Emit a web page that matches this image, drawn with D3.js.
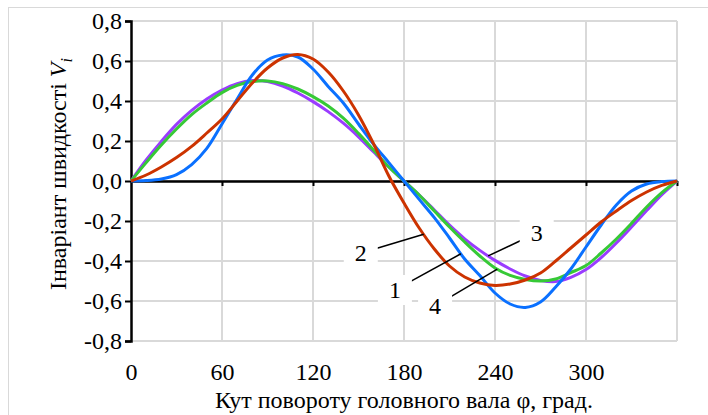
<!DOCTYPE html>
<html>
<head>
<meta charset="utf-8">
<script src="https://cdn.jsdelivr.net/npm/d3@7"></script>
<style>
  body { margin: 0; background: #fff; }
</style>
</head>
<body>
<div id="chart"></div>
<script>
// angle of the main shaft, degrees
var phi = [0, 10, 20, 30, 40, 50, 60, 70, 80, 90, 100, 110, 120, 130, 140, 150, 160, 170, 180,
           190, 200, 210, 220, 230, 240, 250, 260, 270, 280, 290, 300, 310, 320, 330, 340, 350, 360];

// curve 1 (blue)
var v1 = [0, 0.002, 0.01, 0.032, 0.082, 0.163, 0.285, 0.41, 0.53, 0.605, 0.63, 0.62, 0.56, 0.473, 0.39, 0.285, 0.183, 0.092, 0,
          -0.092, -0.183, -0.285, -0.39, -0.473, -0.56, -0.615, -0.632, -0.605, -0.53, -0.44, -0.33, -0.22, -0.12, -0.05, -0.015, -0.003, 0];
// curve 2 (red)
var v2 = [0, 0.03, 0.07, 0.117, 0.173, 0.24, 0.31, 0.4, 0.49, 0.565, 0.615, 0.633, 0.61, 0.545, 0.45, 0.33, 0.185, 0.025, -0.11,
          -0.235, -0.34, -0.425, -0.48, -0.51, -0.522, -0.515, -0.495, -0.46, -0.4, -0.335, -0.27, -0.205, -0.15, -0.098, -0.055, -0.022, 0];
// curve 3 (violet)
var v3 = [0, 0.105, 0.198, 0.283, 0.353, 0.41, 0.455, 0.487, 0.502, 0.497, 0.475, 0.44, 0.397, 0.347, 0.289, 0.221, 0.145, 0.07, 0,
          -0.07, -0.145, -0.221, -0.289, -0.347, -0.397, -0.44, -0.475, -0.497, -0.503, -0.482, -0.443, -0.383, -0.31, -0.23, -0.148, -0.068, 0];
// curve 4 (green)
var v4 = [0, 0.092, 0.18, 0.26, 0.332, 0.39, 0.442, 0.478, 0.497, 0.5, 0.487, 0.46, 0.422, 0.375, 0.314, 0.238, 0.154, 0.07, 0,
          -0.07, -0.15, -0.23, -0.305, -0.375, -0.435, -0.472, -0.492, -0.5, -0.49, -0.458, -0.423, -0.36, -0.29, -0.212, -0.13, -0.058, 0];

var seriesNames = ["1", "2", "3", "4"];
var seriesColors = ["#0a70ff", "#cc3300", "#9a3cff", "#36c936"];

// number labels: where the text sits and where its leader touches the curve (data units)
var labelPhi   = [174, 151.5, 267.5, 200.5];
var labelV     = [-0.545, -0.36, -0.26, -0.625];
var leaderPhi  = [217.5, 193, 235.5, 241.5];

var xTicks = [0, 60, 120, 180, 240, 300];
var xTickMarks = [60, 120, 180, 240, 300, 360];
var yTicks = [-0.8, -0.6, -0.4, -0.2, 0, 0.2, 0.4, 0.6, 0.8];

var FONT = "'Liberation Serif', 'Times New Roman', Times, serif";
var W = 708, H = 415;
var margin = {top: 21, left: 131};
var width = 546, height = 320;

var svg = d3.select("#chart").append("svg")
    .attr("width", W).attr("height", H)
    .attr("font-family", FONT);

// chart area border
svg.append("rect")
    .attr("x", 8.5).attr("y", 7.5)
    .attr("width", W + 10).attr("height", H + 10)
    .attr("fill", "none").attr("stroke", "#d9d9d9").attr("stroke-width", 1);

var g = svg.append("g").attr("transform", "translate(" + margin.left + "," + margin.top + ")");

var x = d3.scaleLinear().domain([0, 360]).range([0, width]);
var y = d3.scaleLinear().domain([-0.8, 0.8]).range([height, 0]);

// grid
g.append("g").selectAll("line").data(yTicks).enter().append("line")
    .attr("x1", 0).attr("x2", width)
    .attr("y1", function(d){ return y(d); }).attr("y2", function(d){ return y(d); })
    .attr("stroke", "#d9d9d9").attr("stroke-width", 2);
g.append("g").selectAll("line").data(xTickMarks).enter().append("line")
    .attr("y1", 0).attr("y2", height)
    .attr("x1", function(d){ return x(d); }).attr("x2", function(d){ return x(d); })
    .attr("stroke", "#d9d9d9").attr("stroke-width", 2);

var fmt = function(d){ return d.toFixed(1).replace(".", ","); };

// y axis
var yAxisG = g.append("g")
    .call(d3.axisLeft(y).tickValues(yTicks).tickSize(6).tickPadding(3).tickFormat(fmt))
    .attr("font-family", FONT).attr("font-size", 24);
yAxisG.select(".domain").attr("stroke", "#000").attr("stroke-width", 2.5);
yAxisG.selectAll(".tick line").attr("stroke", "#000").attr("stroke-width", 2);
yAxisG.selectAll("text").style("font-family", FONT).style("font-size", "24px");

// zero line with tick marks
var xAxisG = g.append("g")
    .attr("transform", "translate(0," + y(0) + ")")
    .call(d3.axisBottom(x).tickValues(xTickMarks).tickSizeInner(5).tickSizeOuter(0).tickFormat(""));
xAxisG.select(".domain").attr("stroke", "#000").attr("stroke-width", 2.5);
xAxisG.selectAll(".tick line").attr("stroke", "#000").attr("stroke-width", 2);

// x tick labels at the bottom
var xLabG = g.append("g")
    .attr("transform", "translate(0," + height + ")")
    .call(d3.axisBottom(x).tickValues(xTicks).tickSize(0).tickPadding(22))
    .attr("font-family", FONT).attr("font-size", 24);
xLabG.select(".domain").remove();
xLabG.selectAll("text").style("font-family", FONT).style("font-size", "24px");

// curves
var allSeries = [v1, v2, v3, v4];
var line = d3.line()
    .x(function(d, i){ return x(phi[i]); })
    .y(function(d){ return y(d); })
    .curve(d3.curveCatmullRom.alpha(0.5));

// drawing order: violet, green, blue, red
[2, 3, 0, 1].forEach(function(k){
    g.append("path")
        .datum(allSeries[k])
        .attr("fill", "none")
        .attr("stroke", seriesColors[k])
        .attr("stroke-width", 3)
        .attr("d", line);
});

function valueAt(vals, a){
    var i = Math.min(Math.floor(a / 10), phi.length - 2);
    var t = (a - phi[i]) / (phi[i + 1] - phi[i]);
    return vals[i] + t * (vals[i + 1] - vals[i]);
}

// leaders + labels
seriesNames.forEach(function(name, k){
    var lx = x(labelPhi[k]), ly = y(labelV[k]);
    var ex = x(leaderPhi[k]), ey = y(valueAt(allSeries[k], leaderPhi[k]));
    var dx = ex - lx, dy = ey - ly, len = Math.sqrt(dx * dx + dy * dy);
    var sx = lx + dx / len * 17, sy = ly + dy / len * 17;
    g.append("line")
        .attr("x1", sx).attr("y1", sy).attr("x2", ex).attr("y2", ey)
        .attr("stroke", "#000").attr("stroke-width", 1.5);
    g.append("rect")
        .attr("x", lx - 17).attr("y", ly - 15)
        .attr("width", 34).attr("height", 30)
        .attr("fill", "#fff");
    g.append("text")
        .attr("x", lx).attr("y", ly)
        .attr("dy", "0.35em")
        .attr("text-anchor", "middle")
        .style("font-family", FONT)
        .style("font-size", "24px")
        .text(name);
});

// axis titles
var yTitle = svg.append("text")
    .attr("transform", "translate(66," + 174 + ") rotate(-90)")
    .attr("text-anchor", "middle")
    .style("font-family", FONT)
    .style("font-size", "24px");
yTitle.append("tspan").text("Інваріант швидкості ");
yTitle.append("tspan").style("font-style", "italic").text("V");
yTitle.append("tspan").style("font-style", "italic").style("font-size", "16px").attr("dy", "6").text("i");

svg.append("text")
    .attr("x", margin.left + width / 2)
    .attr("y", 408)
    .attr("text-anchor", "middle")
    .style("font-family", FONT)
    .style("font-size", "24px")
    .text("Кут повороту головного вала φ, град.");
</script>
</body>
</html>
